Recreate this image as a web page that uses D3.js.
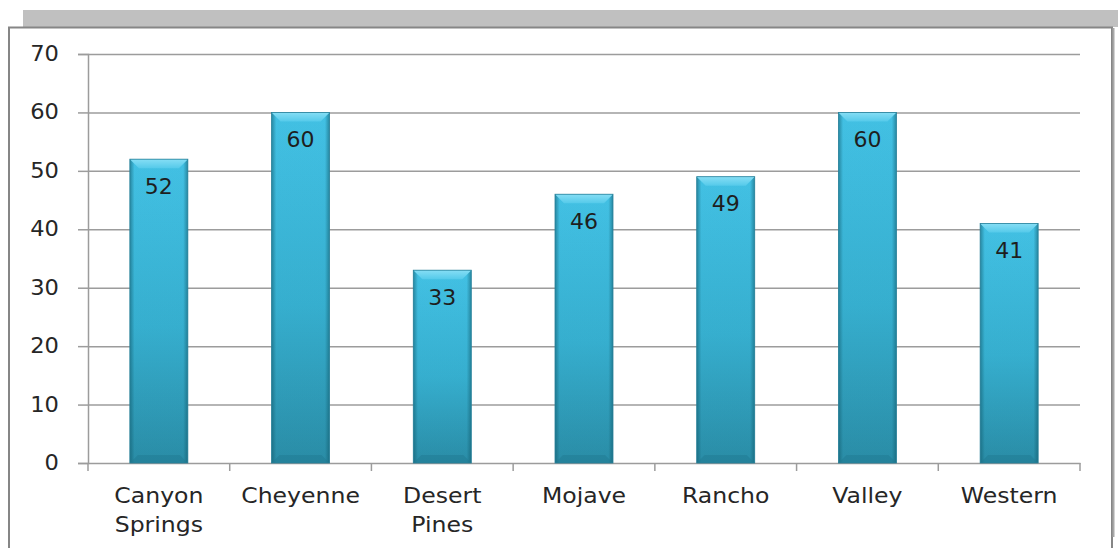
<!DOCTYPE html>
<html>
<head>
<meta charset="utf-8">
<script src="https://cdn.jsdelivr.net/npm/d3@7"></script>
<style>
  body { margin: 0; background: #fff; }
  svg { display: block; font-family: "DejaVu Sans", sans-serif; }
</style>
</head>
<body>
<svg id="chart" width="1118" height="548"></svg>
<script>
const categories = ["Canyon Springs", "Cheyenne", "Desert Pines", "Mojave", "Rancho", "Valley", "Western"];
const values = [52, 60, 33, 46, 49, 60, 41];
const yTicks = [0, 10, 20, 30, 40, 50, 60, 70];

const svg = d3.select("#chart");
const plotLeft = 88, plotRight = 1080, plotTop = 54, plotBottom = 463;

// frame
svg.append("rect").attr("x", 23).attr("y", 10).attr("width", 1095).attr("height", 17).attr("fill", "#c0c0c0");
svg.append("rect").attr("x", 9).attr("y", 27.5).attr("width", 1103).attr("height", 540)
  .attr("fill", "#fff").attr("stroke", "#868686").attr("stroke-width", 2);
svg.append("line").attr("x1", 1113.5).attr("x2", 1113.5).attr("y1", 28).attr("y2", 537)
  .attr("stroke", "#a8a8a8").attr("stroke-width", 2);

const x = d3.scaleBand().domain(categories).range([plotLeft, plotRight]).paddingInner(0).paddingOuter(0);
const y = d3.scaleLinear().domain([0, 70]).range([plotBottom, plotTop]);
const barW = 58;

// gradients
const defs = svg.append("defs");
const vg = defs.append("linearGradient").attr("id", "body").attr("x1", 0).attr("y1", 0).attr("x2", 0).attr("y2", 1);
vg.append("stop").attr("offset", "0%").attr("stop-color", "#45c6ea");
vg.append("stop").attr("offset", "55%").attr("stop-color", "#38b3d4");
vg.append("stop").attr("offset", "100%").attr("stop-color", "#2b8fa9");
const hg = defs.append("linearGradient").attr("id", "edge").attr("x1", 0).attr("y1", 0).attr("x2", 1).attr("y2", 0);
hg.append("stop").attr("offset", "0%").attr("stop-color", "#0e5566").attr("stop-opacity", 0.55);
hg.append("stop").attr("offset", "8%").attr("stop-color", "#0e5566").attr("stop-opacity", 0.05);
hg.append("stop").attr("offset", "92%").attr("stop-color", "#0e5566").attr("stop-opacity", 0.05);
hg.append("stop").attr("offset", "100%").attr("stop-color", "#0e5566").attr("stop-opacity", 0.55);
const tg = defs.append("linearGradient").attr("id", "bevel").attr("x1", 0).attr("y1", 0).attr("x2", 0).attr("y2", 1);
tg.append("stop").attr("offset", "0%").attr("stop-color", "#86def5");
tg.append("stop").attr("offset", "100%").attr("stop-color", "#55caea");

// gridlines
svg.append("g")
  .selectAll("line")
  .data(yTicks.filter(d => d > 0))
  .enter()
  .append("line")
  .attr("x1", plotLeft).attr("x2", plotRight)
  .attr("y1", d => y(d) + 0.5).attr("y2", d => y(d) + 0.5)
  .attr("stroke", "#9c9c9c").attr("stroke-width", 1.5);

// y axis
const yAxis = svg.append("g").attr("transform", `translate(${plotLeft},0)`)
  .call(d3.axisLeft(y).tickValues(yTicks).tickSize(10).tickPadding(16.4));
yAxis.select(".domain").attr("stroke", "#9c9c9c").attr("stroke-width", 1.5);
yAxis.selectAll(".tick line").attr("stroke", "#9c9c9c").attr("stroke-width", 1.5);
yAxis.selectAll("text")
  .attr("font-size", 20.5).attr("fill", "#262626").attr("font-family", "DejaVu Sans")
  .attr("transform", "scale(1.1,1)");

// x axis
const xAxis = svg.append("g").attr("transform", `translate(0,${plotBottom})`)
  .call(d3.axisBottom(x).tickSize(0).tickFormat(""));
xAxis.select(".domain").attr("stroke", "#9c9c9c").attr("stroke-width", 1.5);
svg.append("g")
  .selectAll("line")
  .data(d3.range(categories.length + 1))
  .enter()
  .append("line")
  .attr("x1", i => plotLeft + i * x.step()).attr("x2", i => plotLeft + i * x.step())
  .attr("y1", plotBottom).attr("y2", plotBottom + 8)
  .attr("stroke", "#9c9c9c").attr("stroke-width", 1.5);

// category labels (the original text is stretched horizontally)
svg.append("g")
  .selectAll("g")
  .data(categories)
  .enter()
  .append("g")
  .attr("transform", d => `translate(${x(d) + x.bandwidth() / 2},0) scale(1.15,1)`)
  .append("text")
  .attr("text-anchor", "middle")
  .attr("font-size", 20.5)
  .attr("fill", "#262626")
  .each(function (d) {
    const t = d3.select(this);
    d.split(" ").forEach((w, i) => {
      t.append("tspan").attr("x", 0).attr("y", 503 + i * 29).text(w);
    });
  });

// bars
const bars = svg.append("g")
  .selectAll("g")
  .data(values)
  .enter()
  .append("g");
const bx = (d, i) => x(categories[i]) + x.bandwidth() / 2 - barW / 2;
bars.append("rect")
  .attr("x", bx).attr("y", d => y(d))
  .attr("width", barW).attr("height", d => plotBottom - y(d))
  .attr("fill", "url(#body)");
bars.append("rect")
  .attr("x", bx).attr("y", d => y(d))
  .attr("width", barW).attr("height", d => plotBottom - y(d))
  .attr("fill", "url(#edge)");
// top bevel
bars.append("polygon")
  .attr("points", (d, i) => {
    const x0 = bx(d, i), y0 = y(d);
    return [[x0, y0], [x0 + barW, y0], [x0 + barW - 9, y0 + 9], [x0 + 9, y0 + 9]].join(" ");
  })
  .attr("fill", "url(#bevel)");
// bottom bevel
bars.append("polygon")
  .attr("points", (d, i) => {
    const x0 = bx(d, i);
    return [[x0, plotBottom], [x0 + barW, plotBottom], [x0 + barW - 8, plotBottom - 8], [x0 + 8, plotBottom - 8]].join(" ");
  })
  .attr("fill", "#1f7a91").attr("opacity", 0.5);
bars.append("rect")
  .attr("x", bx).attr("y", d => y(d))
  .attr("width", barW).attr("height", d => plotBottom - y(d))
  .attr("fill", "none").attr("stroke", "#2a8099").attr("stroke-width", 0.8);

// value labels
bars.append("text")
  .attr("x", (d, i) => x(categories[i]) + x.bandwidth() / 2)
  .attr("y", d => y(d) + 34.5)
  .attr("text-anchor", "middle")
  .attr("font-size", 22)
  .attr("fill", "#1e1e1e")
  .text(d => d);
</script>
</body>
</html>
